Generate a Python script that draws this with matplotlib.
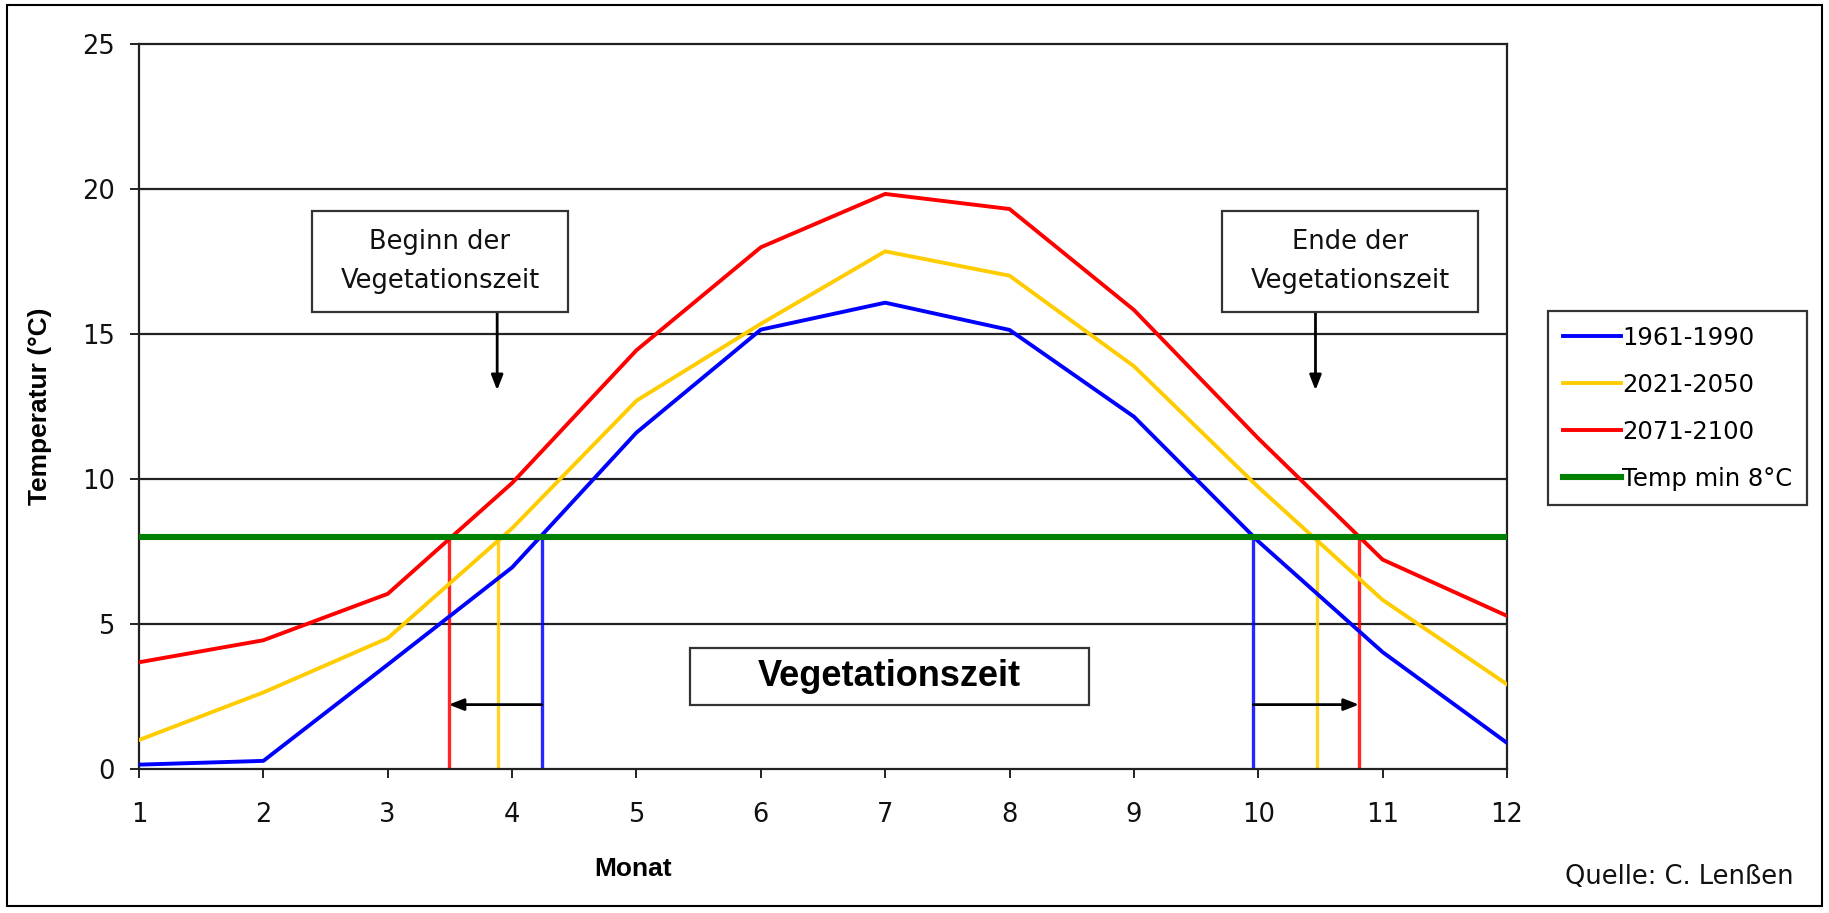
import matplotlib
matplotlib.use("Agg")
import matplotlib.pyplot as plt
from matplotlib.patches import Rectangle

plt.rcParams['font.family'] = ['DejaVu Sans']

# monthly mean temperature (°C)
months = [1, 2, 3, 4, 5, 6, 7, 8, 9, 10, 11, 12]
t_1961_1990 = [0.15, 0.28, 3.6, 6.95, 11.6, 15.15, 16.08, 15.14, 12.15, 7.85, 4.03, 0.9]
t_2021_2050 = [1.0, 2.64, 4.51, 8.3, 12.7, 15.35, 17.85, 17.01, 13.89, 9.72, 5.83, 2.92]
t_2071_2100 = [3.68, 4.44, 6.04, 9.86, 14.44, 17.99, 19.83, 19.31, 15.83, 11.4, 7.22, 5.28]
temp_min = 8

labels = ["1961-1990", "2021-2050", "2071-2100"]
colors = ["#0000ff", "#ffcc00", "#ff0000"]
series = [t_1961_1990, t_2021_2050, t_2071_2100]

# start / end of growing season (month where the curve crosses 8 °C)
season_start = [4.24, 3.89, 3.49]
season_end = [9.96, 10.47, 10.81]

W, H = 1829, 913
fig = plt.figure(figsize=(W / 100, H / 100), dpi=100)
ax = fig.add_axes([139 / W, 1 - 769 / H, (1507 - 139) / W, (769 - 44) / H])

# horizontal gridlines
for yv in [5, 10, 15, 20]:
    ax.axhline(yv, color="#222222", lw=1.6, zorder=1)

for ys, lab, c in zip(series, labels, colors):
    ax.plot(months, ys, color=c, lw=2.8, label=lab, zorder=3)
ax.plot([1, 12], [temp_min, temp_min], color="#008000", lw=4.4,
        label="Temp min 8°C", zorder=4)

# vertical markers at start and end of season
for xs, xe, c in zip(season_start, season_end, colors):
    ax.plot([xs, xs], [0, temp_min], color=c, lw=2.4, alpha=0.85, zorder=2)
    ax.plot([xe, xe], [0, temp_min], color=c, lw=2.4, alpha=0.85, zorder=2)

# shift arrows
arrow_y = 2.22
head = "-|>,head_length=0.9,head_width=0.35"
ax.annotate("", xy=(season_start[2], arrow_y), xytext=(season_start[0], arrow_y),
            arrowprops=dict(arrowstyle=head, color="black", lw=2,
                            shrinkA=0, shrinkB=0), zorder=5)
ax.annotate("", xy=(season_end[2], arrow_y), xytext=(season_end[0], arrow_y),
            arrowprops=dict(arrowstyle=head, color="black", lw=2,
                            shrinkA=0, shrinkB=0), zorder=5)

# text boxes
def box(x0, x1, y0, y1, text, **kw):
    ax.add_patch(Rectangle((x0, y0), x1 - x0, y1 - y0, facecolor="white",
                           edgecolor="#333333", lw=1.6, zorder=6))
    ax.text((x0 + x1) / 2, (y0 + y1) / 2, text, ha="center", va="center",
            multialignment="center", zorder=7, **kw)

box(2.39, 4.45, 15.76, 19.24, "Beginn der\nVegetationszeit",
    fontsize=18.5, linespacing=1.63, color="#111111")
box(9.71, 11.77, 15.76, 19.24, "Ende der\nVegetationszeit",
    fontsize=18.5, linespacing=1.63, color="#111111")
box(5.43, 8.64, 2.22, 4.17, "Vegetationszeit",
    fontsize=26, fontweight="bold", family="Liberation Sans")

for xa in [3.88, 10.46]:
    ax.annotate("", xy=(xa, 13.06), xytext=(xa, 15.76),
                arrowprops=dict(arrowstyle=head, color="black", lw=2,
                                shrinkA=0, shrinkB=0), zorder=5)

ax.set_xlim(1, 12)
ax.set_ylim(0, 25)
ax.set_xticks(months)
ax.set_yticks([0, 5, 10, 15, 20, 25])
ax.tick_params(axis="both", direction="out", length=6.5, width=1.3,
               labelsize=18.5, colors="#111111")
ax.tick_params(axis="y", pad=11)
ax.tick_params(axis="x", pad=17)
for s in ax.spines.values():
    s.set_linewidth(1.6)
    s.set_color("#222222")

fig.text(40 / W, 1 - 406 / H, "Temperatur (°C)", rotation=90, ha="center",
         va="center", fontsize=19, fontweight="bold", family="Liberation Sans")
fig.text(633 / W, 1 - 869 / H, "Monat", ha="center", va="center",
         fontsize=19, fontweight="bold", family="Liberation Sans")
fig.text(1565 / W, 1 - 877 / H, "Quelle: C. Lenßen", ha="left", va="center",
         fontsize=18.5, color="#111111")

leg = fig.legend(loc="upper left", bbox_to_anchor=(1548 / W, 1 - 311 / H),
                 frameon=True, fancybox=False, fontsize=17.5, handlelength=2.4,
                 handletextpad=0.05, labelspacing=0.95, borderpad=0.6,
                 borderaxespad=0)
leg.get_frame().set_edgecolor("black")
leg.get_frame().set_linewidth(1.6)

# outer chart border
fig.add_artist(Rectangle((7 / W, 1 - 906 / H), (1822 - 7) / W, (906 - 5) / H,
                         transform=fig.transFigure, fill=False,
                         edgecolor="black", lw=1.5))

fig.savefig("out.png", dpi=100)
